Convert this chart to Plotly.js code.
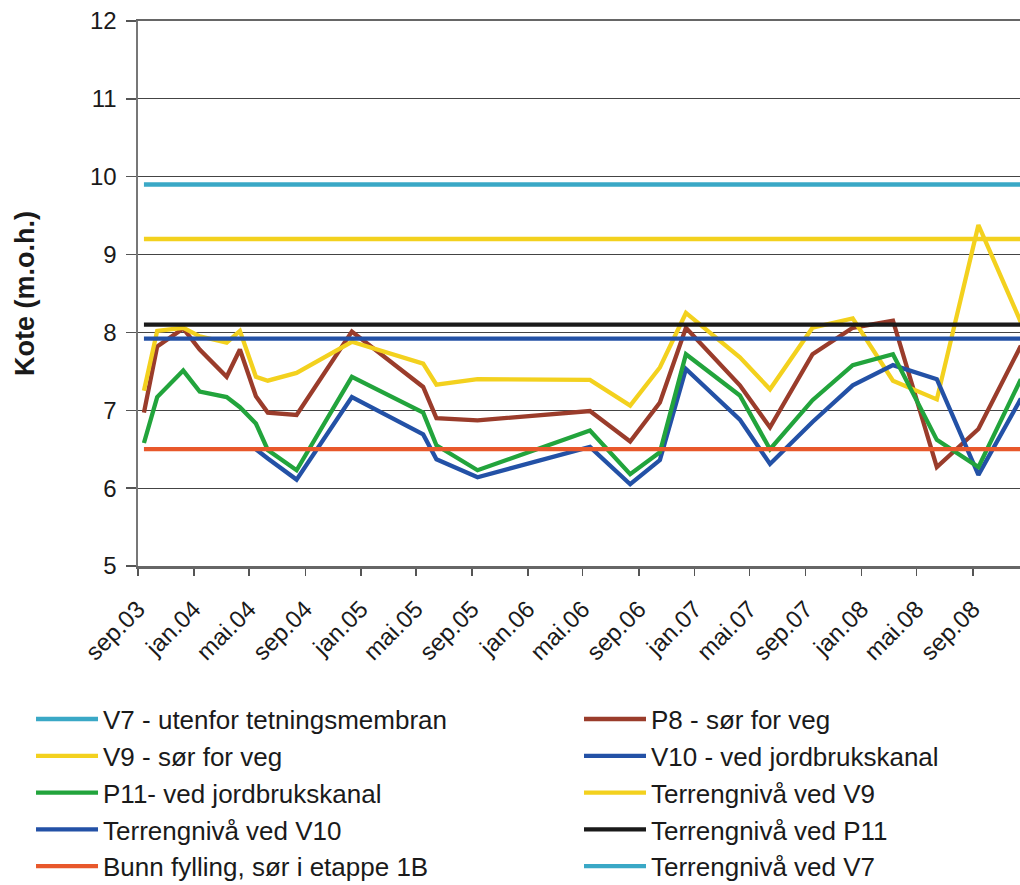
<!DOCTYPE html>
<html><head><meta charset="utf-8">
<script src="https://cdn.plot.ly/plotly-3.0.1.min.js"></script>
<style>html,body{margin:0;padding:0;background:#fff;overflow:hidden}
#wrap{width:1020px;height:885px;overflow:hidden;position:relative}
#chart{width:1020px;height:905px}</style>
</head><body><div id="wrap"><div id="chart"></div></div>
<script>
// Measurement dates
const dates = ['2003-09-14','2003-10-13','2003-12-09','2004-01-14','2004-03-13','2004-04-11',
  '2004-05-16','2004-06-11','2004-08-13','2004-12-12','2005-05-17','2005-06-15','2005-09-13',
  '2006-05-17','2006-08-13','2006-10-17','2006-12-13','2007-04-10','2007-06-15','2007-09-16',
  '2007-12-13','2008-03-10','2008-06-14','2008-09-13','2008-12-15'];
// Series (Kote, m.o.h.)
const v7  = [];
const p8  = [6.97,7.82,8.05,7.78,7.43,7.78,7.18,6.97,6.94,8.01,7.30,6.90,6.87,6.99,6.60,7.10,8.06,7.32,6.78,7.72,8.06,8.15,6.27,6.76,7.83];
const v9  = [7.25,8.02,8.06,7.95,7.87,8.02,7.43,7.38,7.48,7.88,7.60,7.33,7.40,7.39,7.06,7.55,8.25,7.68,7.27,8.06,8.18,7.38,7.14,9.38,8.13];
const v10 = [null,null,null,null,null,null,6.50,6.38,6.11,7.17,6.69,6.37,6.14,6.53,6.05,6.36,7.53,6.88,6.31,6.85,7.32,7.58,7.40,6.17,7.15];
const p11 = [6.58,7.17,7.51,7.24,7.17,7.04,6.83,6.49,6.23,7.43,6.97,6.55,6.23,6.74,6.18,6.46,7.72,7.19,6.50,7.13,7.58,7.72,6.62,6.27,7.40];
// Reference levels
const levelDates  = ['2003-09-14','2008-12-15'];
const terrengV9   = [9.2, 9.2];
const terrengV10  = [7.92, 7.92];
const terrengP11  = [8.1, 8.1];
const bunnFylling = [6.5, 6.5];
const terrengV7   = [9.9, 9.9];
// Axis ticks
const tickDates = ['2003-09-01','2004-01-01','2004-05-01','2004-09-01','2005-01-01','2005-05-01',
  '2005-09-01','2006-01-01','2006-05-01','2006-09-01','2007-01-01','2007-05-01','2007-09-01',
  '2008-01-01','2008-05-01','2008-09-01'];
const tickLabels = ['sep.03','jan.04','mai.04','sep.04','jan.05','mai.05','sep.05','jan.06','mai.06',
  'sep.06','jan.07','mai.07','sep.07','jan.08','mai.08','sep.08'];
const yTicks = [5,6,7,8,9,10,11,12];

const C = {cyan:'#3aa8c6', brown:'#9a3c2b', yellow:'#f3d11e', blue:'#2351a6', green:'#22a43c', black:'#1a1a1a', orange:'#e8582b'};
const LW = 4.3;
function tr(name, x, y, color, legend){
  return {type:'scatter', mode:'lines', name:name, x:x, y:y, legend:legend,
    line:{color:color, width:LW}, hoverinfo:'skip'};
}
const data = [
  tr('V7 - utenfor tetningsmembran', dates.slice(0,1), [null], C.cyan, 'legend'),
  tr('P8 - sør for veg', dates, p8, C.brown, 'legend2'),
  tr('V9 - sør for veg', dates, v9, C.yellow, 'legend'),
  tr('V10 - ved jordbrukskanal', dates, v10, C.blue, 'legend2'),
  tr('P11- ved jordbrukskanal', dates, p11, C.green, 'legend'),
  tr('Terrengnivå ved V9', levelDates, terrengV9, C.yellow, 'legend2'),
  tr('Terrengnivå ved V10', levelDates, terrengV10, C.blue, 'legend'),
  tr('Terrengnivå ved P11', levelDates, terrengP11, C.black, 'legend2'),
  tr('Bunn fylling, sør i etappe 1B', levelDates, bunnFylling, C.orange, 'legend'),
  tr('Terrengnivå ved V7', levelDates, terrengV7, C.cyan, 'legend2')
];
const FONT = 'Liberation Sans, Arial, sans-serif';
const legendCommon = {orientation:'v', yanchor:'top', xanchor:'left', itemwidth:62,
  font:{family:FONT, size:26, color:'#1a1a1a'}, bgcolor:'rgba(0,0,0,0)', borderwidth:0,
  traceorder:'normal', itemclick:false};
const layout = {
  width:1020, height:905,
  margin:{l:138, r:0, t:21, b:339},
  paper_bgcolor:'#fff', plot_bgcolor:'#fff',
  font:{family:FONT, color:'#1a1a1a'},
  showlegend:true,
  legend: Object.assign({x:-0.1213, y:-0.2378}, legendCommon),
  legend2: Object.assign({x:0.5, y:-0.2378}, legendCommon),
  xaxis:{type:'date', range:['2003-09-01','2008-12-13'], tickmode:'array', tickvals:tickDates, ticktext:tickLabels,
    tickangle:-45, tickfont:{family:FONT, size:24, color:'#1a1a1a'}, ticks:'outside', ticklen:7, tickwidth:1.5,
    ticklabelstandoff:10, mirror:true,
    tickcolor:'#555', showline:true, linecolor:'#666', linewidth:2.5, showgrid:false, zeroline:false, fixedrange:true},
  yaxis:{range:[5,12], tickmode:'array', tickvals:yTicks, ticks:'outside', ticklen:10, tickwidth:1.5, tickcolor:'#555',
    ticklabelstandoff:4,
    tickfont:{family:FONT, size:24, color:'#1a1a1a'}, showline:true, linecolor:'#777', linewidth:2.5,
    showgrid:true, gridcolor:'#444', gridwidth:1.2, zeroline:false, fixedrange:true,
    title:{text:'<b>Kote (m.o.h.)</b>', font:{family:FONT, size:27, color:'#1a1a1a'}, standoff:48}}
};
Plotly.newPlot('chart', data, layout, {displayModeBar:false, staticPlot:true});
</script></body></html>
